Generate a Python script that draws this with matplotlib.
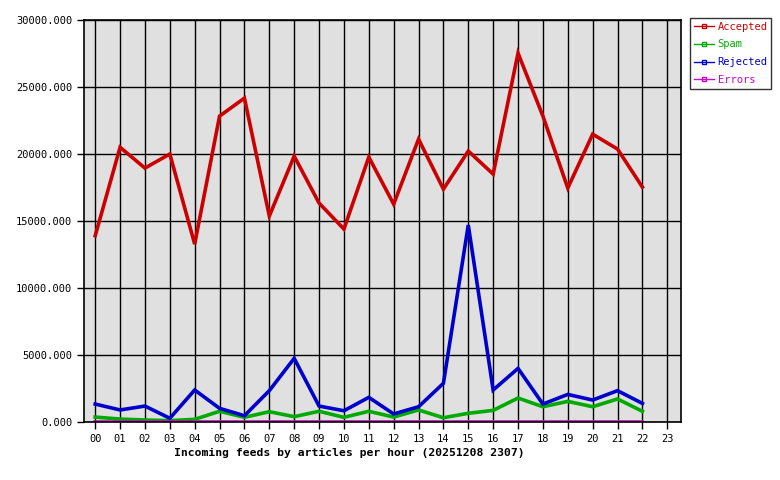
import matplotlib.pyplot as plt
import numpy as np

hours = ['%02d' % h for h in range(24)]
accepted = [13900, 20500, 18950, 20000, 13280, 22830, 24170, 15370, 19840, 16340,
            14400, 19770, 16260, 21110, 17380, 20220, 18500, 27530, 22830, 17460,
            21480, 20370, 17530]
spam = [370, 220, 150, 100, 200, 800, 350, 770, 400, 800, 350, 800, 370, 900,
        320, 650, 870, 1790, 1140, 1540, 1140, 1720, 800]
rejected = [1340, 900, 1190, 280, 2390, 1020, 470, 2340, 4750, 1190, 840, 1840,
            600, 1140, 2890, 14700, 2390, 4000, 1340, 2060, 1640, 2340, 1390]
errors = [20] * 23

series = [('Accepted', accepted, '#cc0000'),
          ('Spam', spam, '#00aa00'),
          ('Rejected', rejected, '#0000cc'),
          ('Errors', errors, '#cc00cc')]

plt.rcParams['font.family'] = ['DejaVu Sans Mono']

fig = plt.figure(figsize=(7.8, 4.8), dpi=100)
ax = fig.add_axes([0.1077, 0.1208, 0.7653, 0.8375])
ax.set_facecolor('#e0e0e0')

x = np.arange(len(accepted))
handles = []
for name, vals, col in series:
    ax.plot(x, vals, color=col, lw=2.6, solid_joinstyle='miter')
    h, = plt.plot([], [], color=col, lw=1.0, marker='s', markersize=2.5,
                  markerfacecolor='none', markeredgecolor=col)
    handles.append(h)

ax.set_xlim(-0.45, 23.55)
ax.set_ylim(0, 30000)
ax.set_xticks(range(24))
ax.set_xticklabels(hours, fontsize=7.5)
yt = np.arange(0, 30001, 5000)
ax.set_yticks(yt)
ax.set_yticklabels(['%.3f' % v for v in yt], fontsize=7.5)
ax.grid(True, color='black', lw=1)
ax.set_axisbelow(True)
ax.tick_params(length=5, width=1, color='black')
for s in ax.spines.values():
    s.set_linewidth(1.2)
ax.set_xlabel('Incoming feeds by articles per hour (20251208 2307)',
              fontsize=8.2, fontweight='bold')
ax.xaxis.set_label_coords(0.444, -0.065)

leg = fig.legend(handles, [s[0] for s in series], loc='upper left',
                 bbox_to_anchor=(0.8846, 0.9625), fontsize=7.5, frameon=True,
                 fancybox=False, edgecolor='black', handlelength=2.0,
                 handletextpad=0.3, borderpad=0.35, labelspacing=0.75,
                 borderaxespad=0)
leg.get_frame().set_linewidth(1)
for t, (_, _, col) in zip(leg.get_texts(), series):
    t.set_color(col)

fig.savefig('out.png', dpi=100)
